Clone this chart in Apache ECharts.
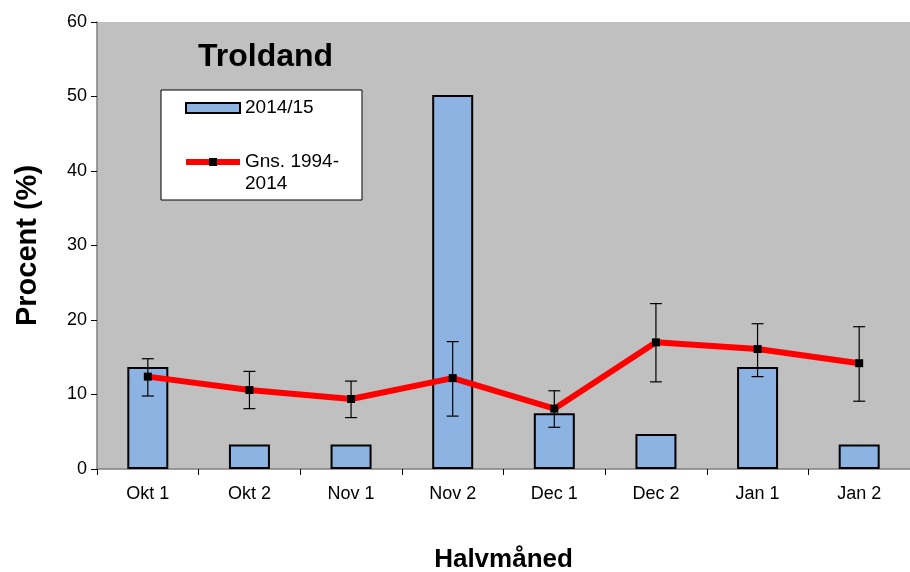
<!DOCTYPE html>
<html>
<head>
<meta charset="utf-8">
<script src="https://cdn.jsdelivr.net/npm/echarts@6/dist/echarts.min.js"></script>
<style>
  html, body { margin: 0; padding: 0; background: #fff; }
  #main { width: 910px; height: 572px; }
</style>
</head>
<body>
<div id="main"></div>
<script>
var categories = ['Okt 1', 'Okt 2', 'Nov 1', 'Nov 2', 'Dec 1', 'Dec 2', 'Jan 1', 'Jan 2'];
var season = [13.7, 3.3, 3.3, 50.2, 7.5, 4.7, 13.7, 3.3];
var average = [12.4, 10.6, 9.4, 12.2, 8.1, 17.0, 16.1, 14.2];
var errLow = [9.8, 8.1, 6.9, 7.1, 5.6, 11.7, 12.4, 9.1];
var errHigh = [14.8, 13.1, 11.8, 17.1, 10.5, 22.2, 19.5, 19.1];

var errData = categories.map(function (c, i) { return [i, errLow[i], errHigh[i]]; });

var myChart = echarts.init(document.getElementById('main'));

var option = {
    backgroundColor: '#ffffff',
    animation: false,
    textStyle: { fontFamily: 'Liberation Sans, Arial, sans-serif' },
    title: {
        text: 'Troldand',
        left: 193,
        top: 36,
        textStyle: { fontSize: 32, fontWeight: 'bold', color: '#000' }
    },
    legend: {
        orient: 'vertical',
        left: 161,
        top: 90,
        padding: [7, 23, 5, 22],
        backgroundColor: '#ffffff',
        borderColor: '#000',
        borderWidth: 1,
        itemGap: 10,
        itemWidth: 54,
        itemHeight: 10,
        textStyle: { fontSize: 19, color: '#000', lineHeight: 22 },
        // leading empty line keeps the first text line level with the icon
        formatter: function (name) { return name === 'Gns. 1994-2014' ? '\nGns. 1994-\n2014' : name; },
        data: [
            { name: '2014/15', icon: 'rect' },
            { name: 'Gns. 1994-2014', lineStyle: { width: 6, color: '#ff0000' } }
        ]
    },
    grid: {
        left: 97,
        right: 0,
        top: 22,
        bottom: 103,
        outerBoundsMode: 'none'
    },
    xAxis: {
        type: 'category',
        data: categories,
        name: 'Halvmåned',
        nameLocation: 'middle',
        nameGap: 78,
        nameTextStyle: { fontSize: 26, fontWeight: 'bold', color: '#000' },
        axisLine: { lineStyle: { color: '#808080', width: 1.5 } },
        axisTick: { show: true, length: 6, lineStyle: { color: '#000' } },
        axisLabel: { fontSize: 18, color: '#000', margin: 16 },
        splitLine: { show: false }
    },
    yAxis: {
        type: 'value',
        min: 0,
        max: 60,
        interval: 10,
        name: 'Procent (%)',
        nameLocation: 'middle',
        nameGap: 55,
        nameTextStyle: { fontSize: 29, fontWeight: 'bold', color: '#000' },
        axisLine: { show: true, lineStyle: { color: '#808080', width: 1.5 } },
        axisTick: { show: true, length: 6, lineStyle: { color: '#000' } },
        axisLabel: { fontSize: 18, color: '#000', margin: 10 },
        splitLine: { show: false },
        splitArea: { show: true, areaStyle: { color: ['#c0c0c0', '#c0c0c0'] } }
    },
    series: [
        {
            name: '2014/15',
            type: 'bar',
            data: season,
            barWidth: 41,
            itemStyle: { color: '#8db3e2', borderColor: '#000', borderWidth: 2 }
        },
        {
            name: 'Gns. 1994-2014',
            type: 'line',
            data: average,
            symbol: 'rect',
            symbolSize: 8,
            lineStyle: { color: '#ff0000', width: 6 },
            itemStyle: { color: '#000' },
            z: 5
        },
        {
            name: 'err',
            type: 'custom',
            data: errData,
            z: 4,
            renderItem: function (params, api) {
                var lo = api.coord([api.value(0), api.value(1)]);
                var hi = api.coord([api.value(0), api.value(2)]);
                var w = 6;
                var st = { stroke: '#000', lineWidth: 1.2 };
                return {
                    type: 'group',
                    children: [
                        { type: 'line', shape: { x1: lo[0], y1: lo[1], x2: hi[0], y2: hi[1] }, style: st },
                        { type: 'line', shape: { x1: lo[0] - w, y1: lo[1], x2: lo[0] + w, y2: lo[1] }, style: st },
                        { type: 'line', shape: { x1: hi[0] - w, y1: hi[1], x2: hi[0] + w, y2: hi[1] }, style: st }
                    ]
                };
            }
        }
    ]
};
myChart.setOption(option);
</script>
</body>
</html>
